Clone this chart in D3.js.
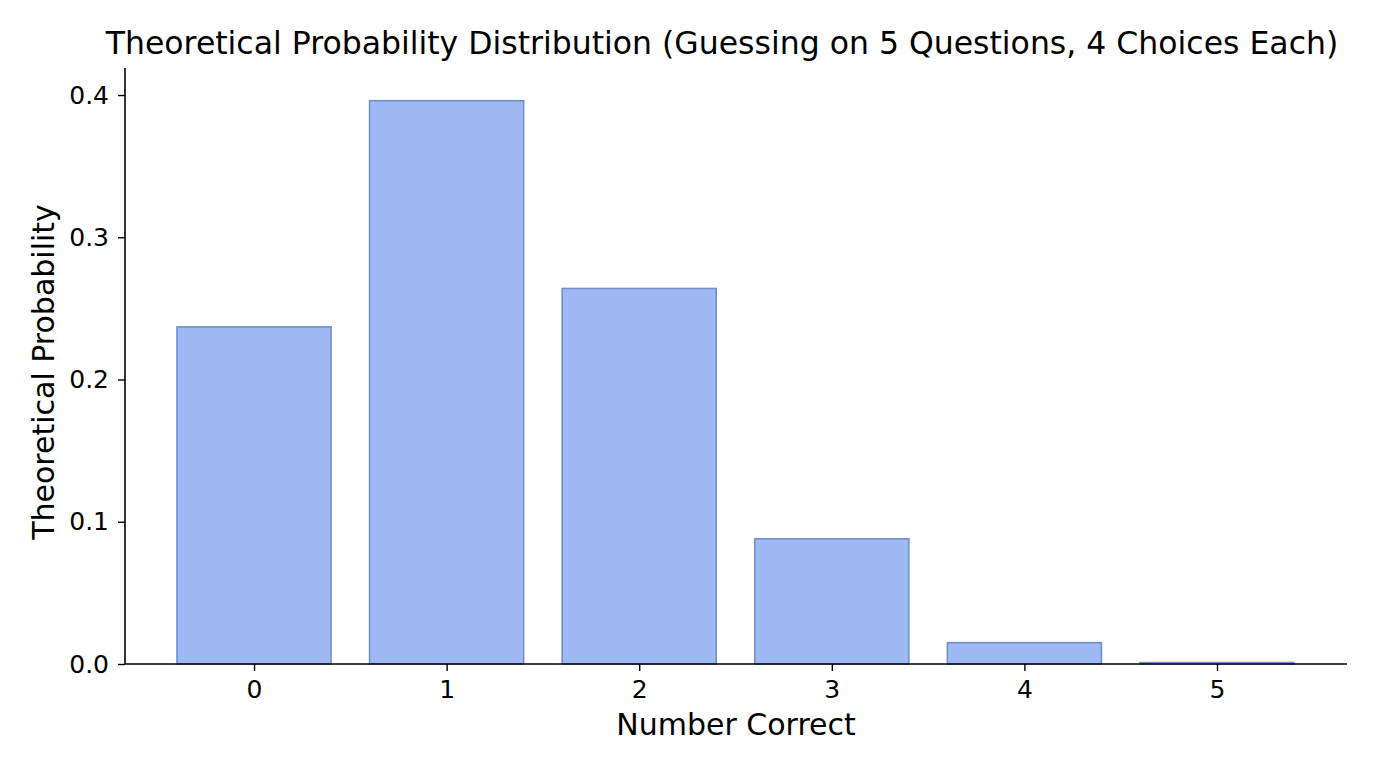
<!DOCTYPE html>
<html lang="en">
	<head>
		<meta charset="utf-8">
		<title>Theoretical Probability Distribution</title>
		<script type="text/javascript" src="https://cdn.jsdelivr.net/npm/d3@7"></script>
		<style>
			body { margin: 0; background: #fff; }
			text { font-family: "DejaVu Sans", sans-serif; fill: #000; }
		</style>
	</head>
	<body>
		<script type="text/javascript">
			// Data
			var categories = [0, 1, 2, 3, 4, 5];
			var probabilities = [0.237, 0.396, 0.264, 0.088, 0.015, 0.001];
			var yTicks = [0.0, 0.1, 0.2, 0.3, 0.4];

			var w = 1376;
			var h = 768;
			var plotLeft = 125, plotRight = 1347, plotTop = 68, plotBottom = 664;
			var barWidth = 0.8;

			var svg = d3.select("body")
						.append("svg")
						.attr("width", w)
						.attr("height", h);

			var x = d3.scaleLinear().domain([-0.67, 5.675]).range([plotLeft, plotRight]);
			var y = d3.scaleLinear().domain([0, 0.419]).range([plotBottom, plotTop]);

			//Bars
			svg.selectAll("rect.bar")
				.data(probabilities)
				.enter()
				.append("rect")
				.attr("class", "bar")
				.attr("x", function(d, i) { return x(categories[i] - barWidth / 2); })
				.attr("y", function(d) { return y(d); })
				.attr("width", x(barWidth) - x(0))
				.attr("height", function(d) { return plotBottom - y(d); })
				.attr("fill", "#9eb9f4")
				.attr("stroke", "#7090cc")
				.attr("stroke-width", 1.6);

			//Axes
			var xAxis = d3.axisBottom(x).tickValues(categories).tickFormat(d3.format("d")).tickSize(7).tickPadding(9);
			var yAxis = d3.axisLeft(y).tickValues(yTicks).tickFormat(d3.format(".1f")).tickSize(7).tickPadding(9);

			var gx = svg.append("g").attr("transform", "translate(0," + plotBottom + ")").call(xAxis);
			var gy = svg.append("g").attr("transform", "translate(" + plotLeft + ",0)").call(yAxis);

			[gx, gy].forEach(function(g) {
				g.select(".domain").attr("stroke", "#000").attr("stroke-width", 1.6);
				g.selectAll(".tick line").attr("stroke", "#000").attr("stroke-width", 1.4);
				g.selectAll(".tick text")
					.attr("font-family", "DejaVu Sans, sans-serif")
					.attr("font-size", "25px")
					.attr("fill", "#000");
			});
			gy.select(".domain").attr("d", "M0," + plotBottom + "V" + plotTop);
			gx.select(".domain").attr("d", "M" + plotLeft + ",0H" + plotRight);

			//Title and labels
			svg.append("text")
				.text("Theoretical Probability Distribution (Guessing on 5 Questions, 4 Choices Each)")
				.attr("x", 722)
				.attr("y", 54)
				.attr("text-anchor", "middle")
				.attr("font-size", "31.5px");

			svg.append("text")
				.text("Number Correct")
				.attr("x", 736)
				.attr("y", 735)
				.attr("text-anchor", "middle")
				.attr("font-size", "30px");

			svg.append("text")
				.text("Theoretical Probability")
				.attr("transform", "translate(54,372) rotate(-90)")
				.attr("text-anchor", "middle")
				.attr("font-size", "30px");
		</script>
	</body>
</html>
